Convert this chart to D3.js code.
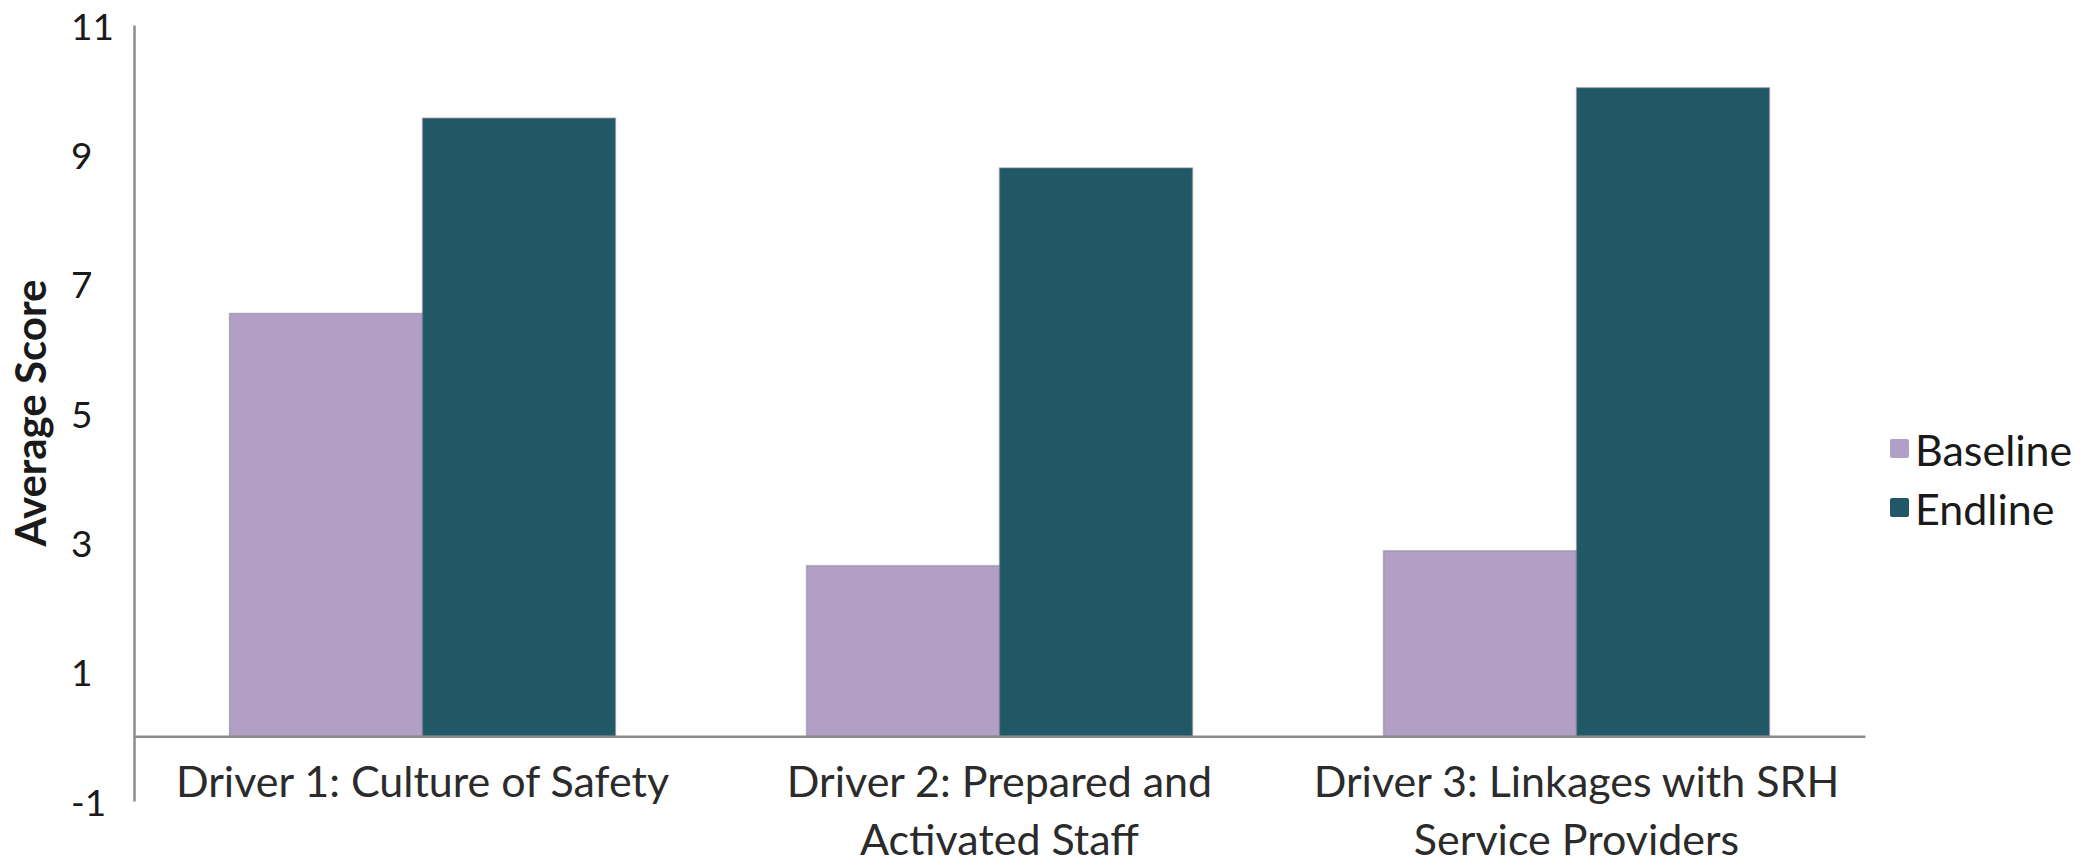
<!DOCTYPE html>
<html>
<head>
<meta charset="utf-8">
<script src="https://cdn.jsdelivr.net/npm/d3@7"></script>
<style>
  body { margin: 0; background: #fff; }
  svg { display: block; font-family: Lato, "Open Sans", sans-serif; }
</style>
</head>
<body>
<script>
// values
var categories = ['Driver 1: Culture of Safety', 'Driver 2: Prepared and Activated Staff', 'Driver 3: Linkages with SRH Service Providers'];
var catLines = [['Driver 1: Culture of Safety'], ['Driver 2: Prepared and', 'Activated Staff'], ['Driver 3: Linkages with SRH', 'Service Providers']];
var series = ['Baseline', 'Endline'];
var baseline = [6.54, 2.64, 2.87];
var endline = [9.56, 8.79, 10.03];
var yTicks = [-1, 1, 3, 5, 7, 9, 11];
var colors = ['#b19fc6', '#215766'];

var width = 2099, height = 864,
    margin = {left: 134, top: 25, right: 234, bottom: 63},
    g_width = width - margin.left - margin.right,
    g_height = height - margin.top - margin.bottom;

var svg = d3.select('body').append('svg').attr('width', width).attr('height', height);
var g = svg.append('g').attr('transform', 'translate(' + margin.left + ',' + margin.top + ')');

var scale_x = d3.scaleBand().domain(categories).range([0, g_width]).paddingInner(0.331).paddingOuter(0.1655);
var scale_s = d3.scaleBand().domain(series).range([0, scale_x.bandwidth()]);
var scale_y = d3.scaleLinear().domain([-1, 11]).range([g_height, 0]);

var rows = categories.map(function(c, i) { return {cat: c, values: [baseline[i], endline[i]]}; });

// bars
var grp = g.selectAll('.grp').data(rows).enter().append('g')
  .attr('transform', function(d) { return 'translate(' + scale_x(d.cat) + ',0)'; });
grp.selectAll('rect').data(function(d) { return d.values.map(function(v, j) { return {s: series[j], v: v, j: j}; }); })
  .enter().append('rect')
  .attr('x', function(d) { return scale_s(d.s); })
  .attr('width', scale_s.bandwidth())
  .attr('y', function(d) { return scale_y(d.v); })
  .attr('height', function(d) { return scale_y(0) - scale_y(d.v); })
  .attr('fill', function(d) { return colors[d.j]; })
  .attr('stroke', '#7d8088').attr('stroke-opacity', 0.45).attr('stroke-width', 1.5);

// y axis
var y_axis = d3.axisLeft(scale_y).tickValues(yTicks).tickSize(0).tickSizeOuter(0)
  .tickFormat(function(d) { return String(d); });
var yg = g.append('g').call(y_axis);
yg.select('.domain').attr('stroke', '#8c8c8c').attr('stroke-width', 2.5);
yg.selectAll('text').attr('text-anchor', 'start').attr('x', -63).attr('dy', '0.38em')
  .attr('font-size', 37).attr('fill', '#1a1a1a').attr('font-family', 'Lato, sans-serif');

// x axis along zero
var x_axis = d3.axisBottom(scale_x).tickSize(0).tickSizeOuter(0).tickFormat('');
var xg = g.append('g').attr('transform', 'translate(0,' + scale_y(0) + ')').call(x_axis);
xg.select('.domain').attr('stroke', '#8c8c8c').attr('stroke-width', 2.5);

var lbl = g.append('g').selectAll('text').data(categories).enter().append('text')
  .attr('text-anchor', 'middle')
  .attr('font-size', 43).attr('fill', '#2b2b2b')
  .attr('transform', function(d) { return 'translate(' + (scale_x(d) + scale_x.bandwidth() / 2) + ',' + (scale_y(0) + 61) + ')'; });
lbl.selectAll('tspan').data(function(d, i) { return catLines[i]; }).enter().append('tspan')
  .attr('x', 0).attr('dy', function(d, i) { return i === 0 ? 0 : 58; })
  .text(function(d) { return d; });

// y title
svg.append('text').attr('transform', 'translate(46,' + (margin.top + scale_y(5)) + ') rotate(-90)')
  .attr('text-anchor', 'middle').attr('font-size', 42).attr('font-weight', 'bold').attr('fill', '#1a1a1a')
  .text('Average Score');

// legend
var leg = svg.append('g').attr('transform', 'translate(1890,439)');
var li = leg.selectAll('g').data(series).enter().append('g')
  .attr('transform', function(d, i) { return 'translate(0,' + (i * 59) + ')'; });
li.append('rect').attr('width', 19).attr('height', 19).attr('rx', 2)
  .attr('fill', function(d, i) { return colors[i]; });
li.append('text').attr('x', 25).attr('y', 27).attr('font-size', 43).attr('fill', '#1a1a1a')
  .text(function(d) { return d; });
</script>
</body>
</html>
